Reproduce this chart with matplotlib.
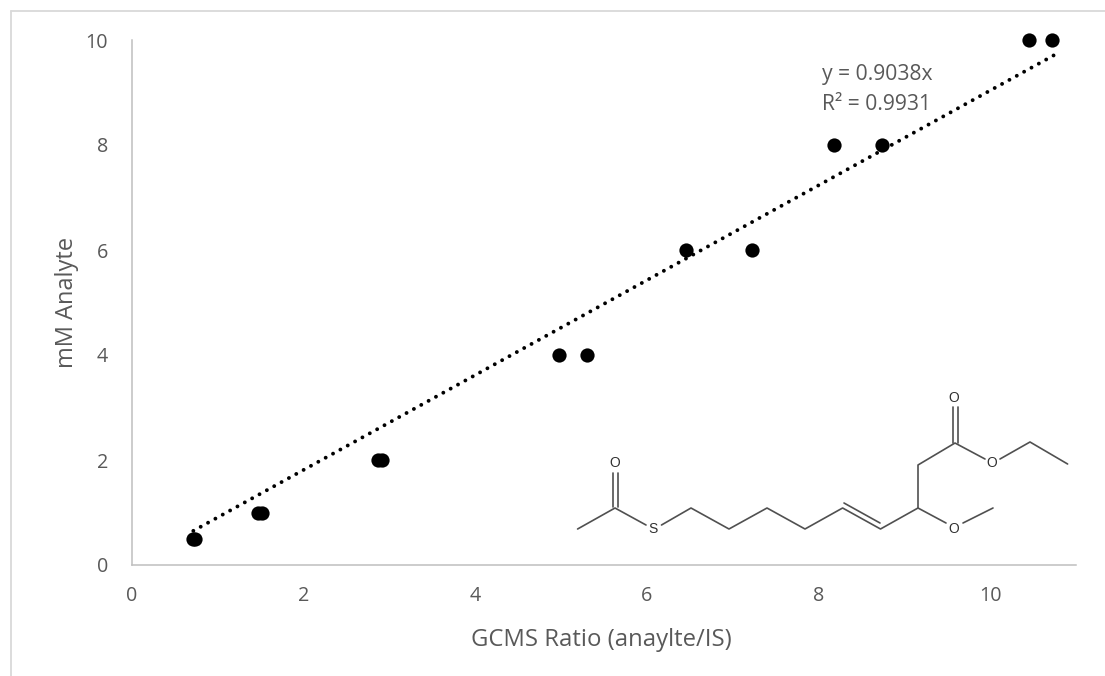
import matplotlib
matplotlib.use("Agg")
import matplotlib.pyplot as plt
import numpy as np
from matplotlib.lines import Line2D

plt.rcParams['font.family'] = ['Open Sans', 'DejaVu Sans']

ratio = [0.72, 0.74, 1.47, 1.52, 2.87, 2.92, 4.98, 5.30, 6.46, 7.23, 8.18, 8.74, 10.45, 10.72]
analyte = [0.5, 0.5, 1, 1, 2, 2, 4, 4, 6, 6, 8, 8, 10, 10]
slope = 0.9038
trend_x = [0.72, 10.74]
x_ticks = [0, 2, 4, 6, 8, 10]
y_ticks = [0, 2, 4, 6, 8, 10]
x_label = "GCMS Ratio (anaylte/IS)"
y_label = "mM Analyte"
equation = "y = 0.9038x\nR² = 0.9931"

W, H = 1105, 676
fig = plt.figure(figsize=(W / 100, H / 100), dpi=100)
ax = fig.add_axes([131.5 / W, 1 - 565 / H, (1076 - 131.5) / W, (565 - 40) / H])
ax.set_xlim(0, 11.0)
ax.set_ylim(0, 10)
ax.patch.set_alpha(0)

txt = '#595959'
axc = '#bfbfbf'
for s in ('top', 'right'):
    ax.spines[s].set_visible(False)
for s in ('left', 'bottom'):
    ax.spines[s].set_color(axc)
    ax.spines[s].set_linewidth(1.1)
ax.set_xticks(x_ticks)
ax.set_yticks(y_ticks)
ax.tick_params(length=0, labelsize=14.2, labelcolor=txt)
ax.tick_params(axis='x', pad=15)
ax.tick_params(axis='y', pad=17)
ax.set_xlabel(x_label, fontsize=17.2, color=txt, va='center')
ax.set_ylabel(y_label, fontsize=17.0, color=txt, va='center')
ax.xaxis.set_label_coords(0.497, -0.142)
ax.yaxis.set_label_coords(-0.0685, 0.5)

tx = np.array(trend_x)
ax.plot(tx, slope * tx, color='black', lw=2.8, ls=(0, (0.01, 2.15)), dash_capstyle='round',
        zorder=2, clip_on=False)
ax.scatter(ratio, analyte, s=105, color='black', zorder=3, clip_on=False, linewidths=0)
ax.text(8.04, 9.05, equation, fontsize=15.2, color=txt, va='center', ha='left', linespacing=1.55)

# outer chart frame (clipped by the picture on the right and bottom)
def fig_line(xs, ys, color, lw):
    fig.add_artist(Line2D([x / W for x in xs], [1 - y / H for y in ys], color=color, lw=lw,
                          solid_capstyle='round', solid_joinstyle='round'))

fig_line([11, 11], [10.5, 676], '#d9d9d9', 1.3)
fig_line([11, 1105], [10.5, 10.5], '#d9d9d9', 1.3)

# embedded structure drawing, in pixels of the picture
bond_chains = [
    [(577.6, 529), (615, 508), (646, 525)],
    [(661.5, 525), (691, 508), (729, 529), (767, 508), (805, 529), (842.6, 508), (880.5, 529),
     (918, 508), (946, 523)],
    [(963, 523), (993, 508)],
    [(918, 508), (918, 465), (955, 443), (985, 459)],
    [(1000, 459), (1030, 442), (1067.6, 464)],
]
double_bonds = [
    [(612.5, 507), (612.5, 473)], [(618, 507), (618, 473)],
    [(952.5, 443), (952.5, 407)], [(957.6, 443), (957.6, 407)],
    [(844, 503), (880, 523)],
]
atom_labels = [(615, 463, 'O'), (653, 529, 'S'), (953.6, 529, 'O'), (992, 463, 'O'), (953.6, 398, 'O')]
mol = '#505050'
for seg in bond_chains + double_bonds:
    fig_line([p[0] for p in seg], [p[1] for p in seg], mol, 1.2)
for x, y, s in atom_labels:
    fig.text(x / W, 1 - y / H, s, fontsize=10, color='#303030', ha='center', va='center',
             family=['Liberation Sans', 'DejaVu Sans'])

fig.savefig('out.png', dpi=100)
